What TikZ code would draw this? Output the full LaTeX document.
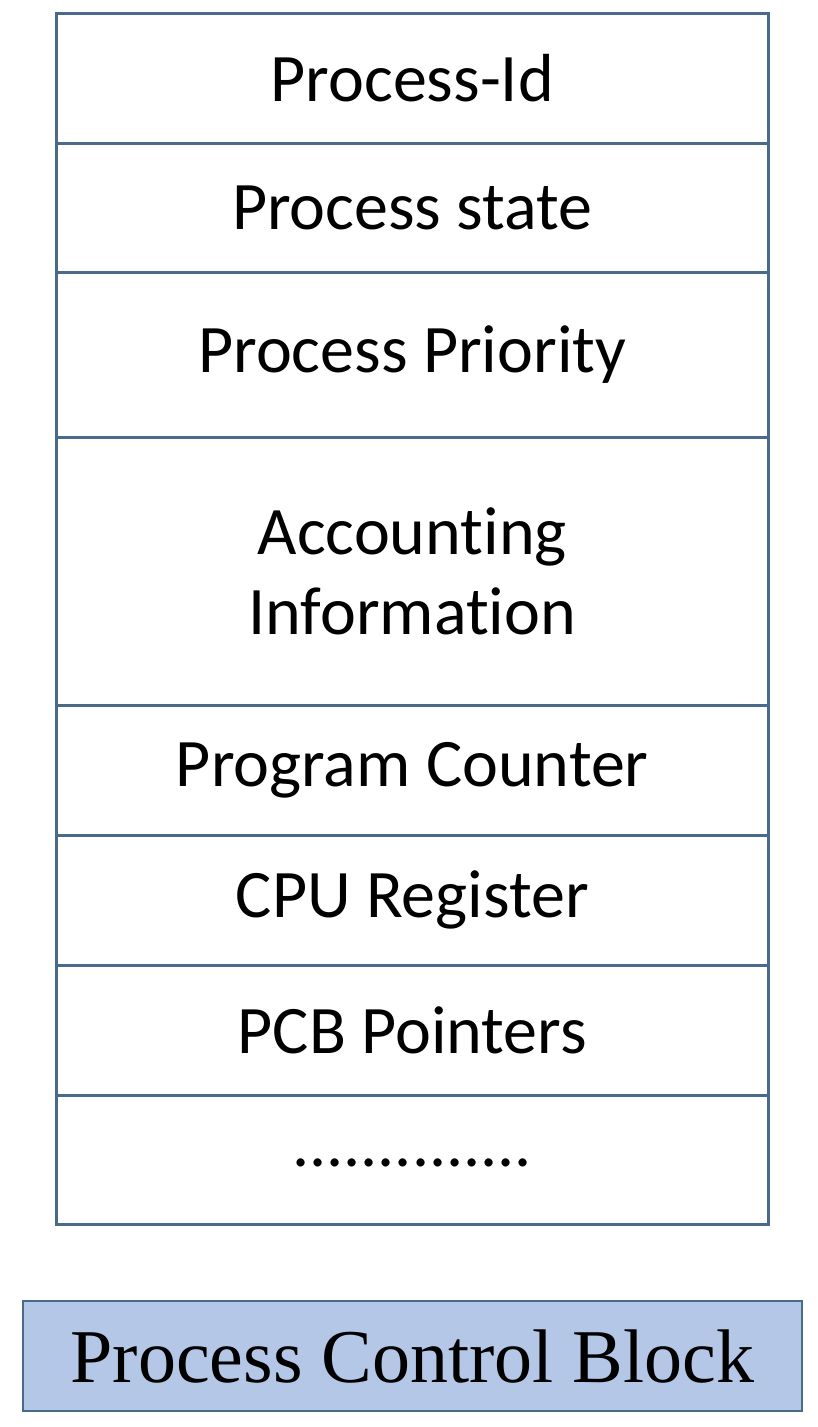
\documentclass[tikz,border=0pt]{standalone}
\usepackage{fontspec}
\setmainfont[RawFeature=-liga]{Carlito}
\newfontfamily\titlefont{Liberation Serif}
\definecolor{edge}{HTML}{4A6A8A}
\definecolor{fillb}{HTML}{B4C7E7}
\begin{document}
\begin{tikzpicture}[x=1pt,y=-1pt,
  cell/.style={draw=edge,line width=2.5pt,minimum width=712pt,anchor=north west,inner sep=0pt,font=\fontsize{68}{80}\selectfont,align=center},
  title/.style={draw=edge,line width=2pt,fill=fillb,minimum width=779pt,minimum height=110pt,anchor=north west,inner sep=0pt,font=\titlefont\fontsize{76}{80}\selectfont}]
\useasboundingbox (0,0) rectangle (817,1427);
\node[cell,minimum height=130pt] (a) at (55,12) {Process-Id};
\node[cell,minimum height=129pt] (b) at (55,142) {Process state};
\node[cell,minimum height=165pt] (c) at (55,271) {Process Priority};
\node[cell,minimum height=268pt] (d) at (55,436) {Accounting\\Information};
\node[cell,minimum height=130pt] (e) at (55,704) {Program Counter};
\node[cell,minimum height=130pt] (f) at (55,834) {CPU Register};
\node[cell,minimum height=130pt] (g) at (55,964) {PCB Pointers};
\node[cell,minimum height=129pt] (h) at (55,1094) {\raisebox{-14pt}{..............}};
\node[title] (t) at (22,1300) {Process Control Block};
\end{tikzpicture}
\end{document}
